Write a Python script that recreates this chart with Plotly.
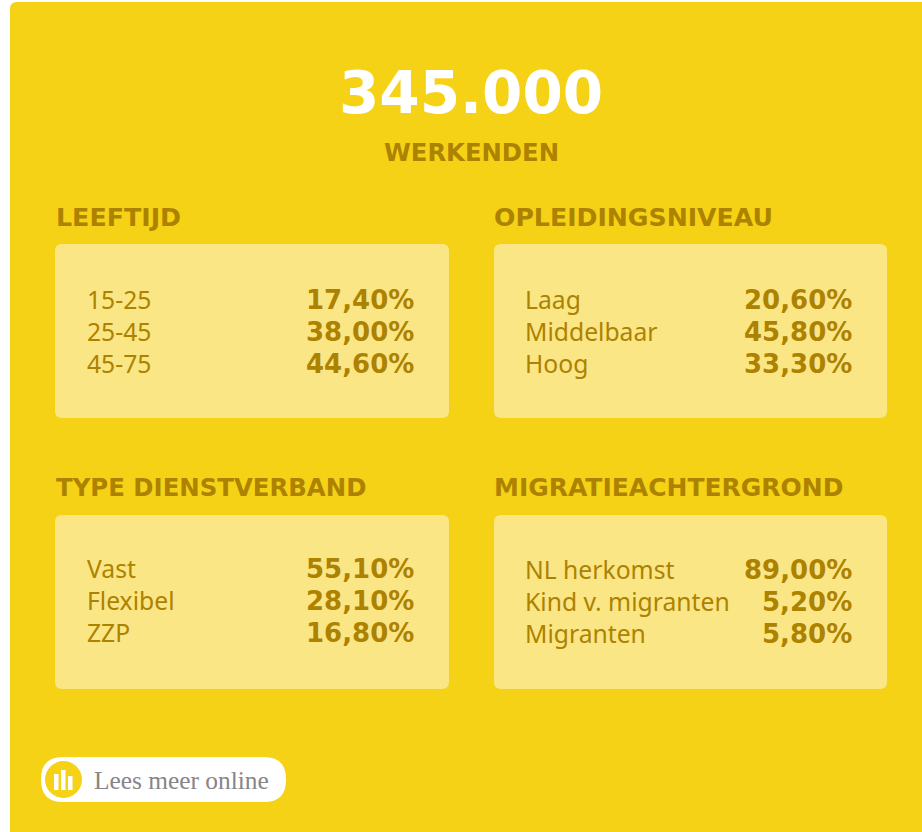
import plotly.graph_objects as go

TOTAL = "345.000"
SUBTITLE = "WERKENDEN"
leeftijd_labels = ["15-25", "25-45", "45-75"]
leeftijd_values = ["17,40%", "38,00%", "44,60%"]
opleiding_labels = ["Laag", "Middelbaar", "Hoog"]
opleiding_values = ["20,60%", "45,80%", "33,30%"]
dienst_labels = ["Vast", "Flexibel", "ZZP"]
dienst_values = ["55,10%", "28,10%", "16,80%"]
migratie_labels = ["NL herkomst", "Kind v. migranten", "Migranten"]
migratie_values = ["89,00%", "5,20%", "5,80%"]
LINK = "Lees meer online"

YELLOW = "#F5D215"
PANEL = "#FBE686"
DARK = "#AC8200"
LABEL_FONT = "Noto Sans"
BOLD_FONT = "DejaVu Sans"


def rr(x0, y0, x1, y1, r):
    return (f"M{x0+r},{y0} L{x1-r},{y0} Q{x1},{y0} {x1},{y0+r} L{x1},{y1-r} Q{x1},{y1} {x1-r},{y1} "
            f"L{x0+r},{y1} Q{x0},{y1} {x0},{y1-r} L{x0},{y0+r} Q{x0},{y0} {x0+r},{y0} Z")


fig = go.Figure()
shapes = [dict(type="path", path=rr(10, 2, 940, 850, 7), fillcolor=YELLOW, line_width=0, layer="below")]
ann = []


def text(x, y, s, size, color=DARK, bold=False, anchor="left", family=None):
    fam = family or (BOLD_FONT if bold else LABEL_FONT)
    ann.append(dict(x=x, y=y, text=f"<b>{s}</b>" if bold else s, showarrow=False, xanchor=anchor, yanchor="middle",
                    font=dict(family=fam, size=size, color=color), xref="x", yref="y"))


text(471, 93, TOTAL, 58, "#FFFFFF", True, "center")
text(471, 152, SUBTITLE, 24.3, DARK, True, "center")

blocks = [
    ("LEEFTIJD", 25.3, leeftijd_labels, leeftijd_values, 55, 449, 244, 418, 217, [300, 332, 364], 85, 416),
    ("OPLEIDINGSNIVEAU", 25.2, opleiding_labels, opleiding_values, 494, 887, 244, 418, 217, [300, 332, 364], 523, 854),
    ("TYPE DIENSTVERBAND", 24.4, dienst_labels, dienst_values, 55, 449, 515, 689, 487, [569, 601, 633], 84.5, 416),
    ("MIGRATIEACHTERGROND", 25, migratie_labels, migratie_values, 494, 887, 515, 689, 487, [570, 602, 634], 522.5, 854),
]
for title, tsize, labels, values, x0, x1, y0, y1, ty, rows, lx, vx in blocks:
    shapes.append(dict(type="path", path=rr(x0, y0, x1, y1, 7), fillcolor=PANEL, line_width=0, layer="below"))
    text(x0 - 1.5 if x0 == 55 else x0 - 2, ty, title, tsize, DARK, True)
    for lab, val, y in zip(labels, values, rows):
        text(lx, y - 1, lab, 24.7)
        text(vx, y, val, 26, DARK, True, "right")

# link button
shapes.append(dict(type="path", path=rr(41, 757, 286, 802, 22), fillcolor="#FFFFFF", line_width=0))
shapes.append(dict(type="circle", x0=45, y0=761, x1=82, y1=798, fillcolor=YELLOW, line_width=0))
for bx0, bx1, by0 in [(54, 58.5, 774), (61, 65.5, 770), (68, 72.5, 776)]:
    shapes.append(dict(type="rect", x0=bx0, x1=bx1, y0=by0, y1=790, fillcolor="#FFFFFF", line_width=0))
text(92, 780, LINK, 25.4, "#85858A", False, "left", "Liberation Serif")

fig.update_layout(
    width=922, height=832, margin=dict(l=0, r=0, t=0, b=0),
    paper_bgcolor="#FFFFFF", plot_bgcolor="rgba(0,0,0,0)", showlegend=False,
    xaxis=dict(range=[0, 922], visible=False, fixedrange=True),
    yaxis=dict(range=[832, 0], visible=False, fixedrange=True),
    shapes=shapes, annotations=ann,
)
fig.write_html("out.html", config={"displayModeBar": False},
               post_script="document.body.style.margin='0';document.body.style.overflow='hidden';")
